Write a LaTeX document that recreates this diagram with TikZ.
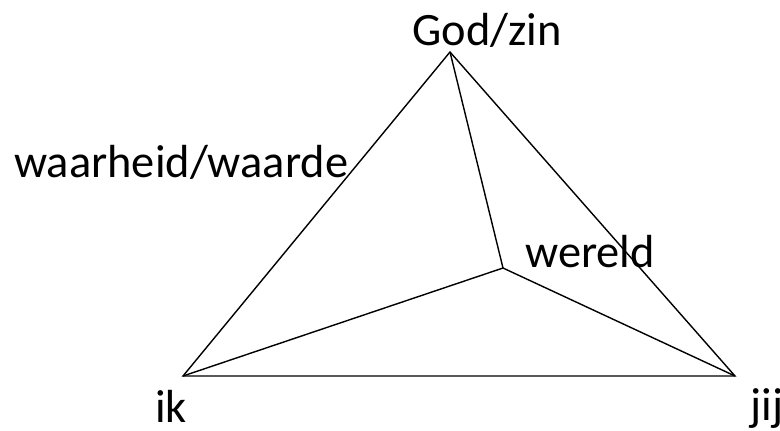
\documentclass[tikz,border=0pt]{standalone}
\usepackage{fontspec}
\setmainfont{Carlito}
\usetikzlibrary{positioning}

\begin{document}
\begin{tikzpicture}[x=0.025cm, y=-0.025cm, every node/.style={font=\fontsize{33}{39}\selectfont, inner sep=0pt, anchor=base west}]
    \useasboundingbox (0,0) rectangle (780,430);

    % corners of the pyramid
    \coordinate (top) at (450,52);
    \coordinate (ik) at (183,376);
    \coordinate (jij) at (735,376);
    \coordinate (wereld) at (503,268);

    % labels
    \node (topLabel) at (412,45) {God/zin};
    \node (waarLabel) at (14,177) {waarheid/waarde};
    \node (wereldLabel) at (525,267) {wereld};
    \node (ikLabel) at (155,422) {ik};
    \node (jijLabel) at (750,420) {jij};

    % edges
    \draw[line width=1pt] (top) -- (ik) -- (jij) -- cycle;
    \draw[line width=1pt] (top) -- (wereld);
    \draw[line width=1pt] (ik) -- (wereld) -- (jij);
\end{tikzpicture}
\end{document}
